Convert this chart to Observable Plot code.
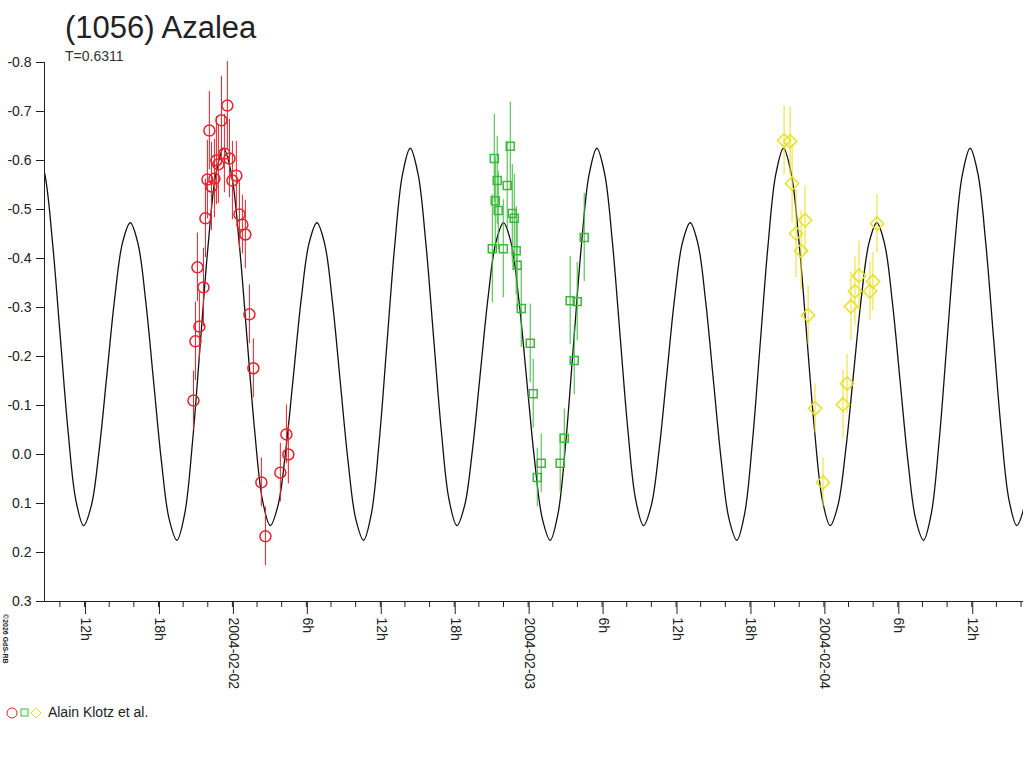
<!DOCTYPE html>
<html><head><meta charset="utf-8">
<script src="https://cdn.jsdelivr.net/npm/d3@7"></script>
<script src="https://cdn.jsdelivr.net/npm/@observablehq/plot@0.6"></script>
<style>
body{margin:0;background:#fff;font-family:"Liberation Sans",Arial,sans-serif;}
#wrap{position:relative;width:1024px;height:768px;}
#chart{position:absolute;left:0;top:0;}
.t{position:absolute;color:#222;white-space:nowrap;}
</style></head><body>
<div id="wrap">
<div id="chart"></div>
<div class="t" style="left:65px;top:10px;font-size:31px;">(1056) Azalea</div>
<div class="t" style="left:65px;top:48px;font-size:14px;color:#333">T=0.6311</div>
<svg class="t" style="left:0;top:610px" width="12" height="70"><text transform="translate(3,4) rotate(90)" font-size="7" font-weight="bold" fill="#222" font-family="Liberation Sans, Arial">©2026 GdS-RB</text></svg>
<div class="t" style="left:4px;top:704px;font-size:14px;">
<svg width="38" height="16" style="vertical-align:-3px"><circle cx="8" cy="9" r="5" fill="none" stroke="#e8202a"/><rect x="17" y="5" width="7" height="7" fill="none" stroke="#3cb83c"/><path d="M32 4 L37 9 L32 14 L27 9 Z" fill="none" stroke="#e8e020"/></svg>
<span style="margin-left:2px">Alain Klotz et al.</span></div>
</div>
<script>
// time in hours from 2004-02-02 00:00 UT, magnitude
const period = 0.6311;            // days
const peakHour = 14.43;          // epoch of primary maximum (hours)
const curvePhaseMag = [-0.625,-0.573,-0.433,-0.24,-0.048,0.093,0.145,0.104,-0.009,-0.164,-0.319,-0.432,-0.473,-0.43,-0.311,-0.149,0.013,0.132,0.175,0.121,-0.025,-0.225,-0.425,-0.571,-0.625];

const redHours = [-3.16,-3.0,-2.84,-2.68,-2.35,-2.19,-2.03,-1.87,-1.70,-1.46,-1.30,-1.14,-0.89,-0.65,-0.41,-0.24,0,0.32,0.57,0.81,1.05,1.38,1.70,2.35,2.68,3.89,4.38,4.54];
const redMag = [-0.110,-0.231,-0.382,-0.261,-0.341,-0.482,-0.561,-0.661,-0.547,-0.563,-0.600,-0.592,-0.682,-0.614,-0.712,-0.604,-0.559,-0.569,-0.490,-0.469,-0.449,-0.286,-0.176,0.057,0.167,0.037,-0.041,0.0];
const redErr = [0.06,0.08,0.07,0.07,0.08,0.08,0.08,0.08,0.09,0.08,0.09,0.08,0.09,0.08,0.09,0.08,0.08,0.07,0.07,0.06,0.07,0.06,0.06,0.05,0.06,0.06,0.06,0.06];

const greenHours = [21.09,21.25,21.33,21.49,21.57,21.98,22.30,22.55,22.71,22.87,23.03,23.11,23.44,24.17,24.41,24.74,25.06,26.60,26.93,27.41,27.74,27.98,28.55];
const greenMag = [-0.420,-0.604,-0.518,-0.559,-0.498,-0.420,-0.549,-0.629,-0.492,-0.482,-0.416,-0.386,-0.298,-0.227,-0.124,0.047,0.018,0.018,-0.033,-0.314,-0.192,-0.312,-0.443];
const greenErr = [0.11,0.09,0.09,0.09,0.08,0.1,0.09,0.09,0.1,0.09,0.09,0.09,0.08,0.08,0.07,0.06,0.06,0.06,0.06,0.09,0.07,0.08,0.09];

const yellowHours = [44.77,45.26,45.42,45.74,46.15,46.47,46.72,47.28,47.93,49.55,49.88,50.20,50.52,50.85,51.74,51.98,52.31];
const yellowMag = [-0.641,-0.639,-0.553,-0.451,-0.416,-0.478,-0.284,-0.094,0.057,-0.102,-0.145,-0.302,-0.333,-0.365,-0.333,-0.353,-0.471];
const yellowErr = [0.07,0.07,0.08,0.09,0.08,0.07,0.06,0.05,0.05,0.07,0.06,0.07,0.07,0.07,0.06,0.06,0.06];

const yTicks = [-0.8,-0.7,-0.6,-0.5,-0.4,-0.3,-0.2,-0.1,0.0,0.1,0.2,0.3];
const yTickLabels = ["-0.8","-0.7","-0.6","-0.5","-0.4","-0.3","-0.2","-0.1","0.0","0.1","0.2","0.3"];
const majorTickHours = [-12,-6,0,6,12,18,24,30,36,42,48,54,60];
const majorTickLabels = ["12h","18h","2004-02-02","6h","12h","18h","2004-02-03","6h","12h","18h","2004-02-04","6h","12h"];
const minorTickHours = d3.range(-14,65,2);
const xDomainHours = [-15.25,64.2];

const T0 = Date.UTC(2004,1,2);
const toDate = h => new Date(T0 + h*3600e3);
const P = period*24;
const curve = [];
for (let n=-3;n<=4;n++) curvePhaseMag.forEach((m,k)=>{ if(!(k===24 && n<4)) curve.push({t:toDate(peakHour+(n+k/24)*P), m}); });
const mk = (hs,ms,es)=>hs.map((h,i)=>({t:toDate(h),m:ms[i],e:es[i]}));
const red = mk(redHours,redMag,redErr), green = mk(greenHours,greenMag,greenErr), yellow = mk(yellowHours,yellowMag,yellowErr);
const cR="#e8202a", cG="#3cb83c", cY="#e8e020";
const errBar=(d,c)=>Plot.ruleX(d,{x:"t",y1:x=>x.m-x.e,y2:x=>x.m+x.e,stroke:c,strokeWidth:1});
const plot = Plot.plot({
  width:1024,height:768,marginLeft:44,marginTop:62,marginBottom:167,marginRight:1,
  style:{fontFamily:"Liberation Sans, Arial, sans-serif",color:"#222",background:"transparent"},
  x:{type:"utc",domain:xDomainHours.map(toDate)},
  y:{domain:[-0.8,0.3],reverse:true},
  marks:[
    Plot.line(curve,{x:"t",y:"m",stroke:"#111",strokeWidth:1.3,curve:"catmull-rom",clip:true}),
    errBar(red,cR),errBar(green,cG),errBar(yellow,cY),
    Plot.dot(red,{x:"t",y:"m",symbol:"circle",r:5.5,stroke:cR,fill:"none"}),
    Plot.dot(green,{x:"t",y:"m",symbol:"square",r:4.5,stroke:cG,fill:"none"}),
    Plot.dot(yellow,{x:"t",y:"m",symbol:"diamond2",r:6,stroke:cY,fill:"none"}),
    Plot.axisY({ticks:yTicks,tickFormat:(d,i)=>yTickLabels[i],tickSize:8,tickPadding:5,fontSize:14,label:null,stroke:"#222"}),
    Plot.ruleX([toDate(xDomainHours[0])],{y1:-0.8,y2:0.3,stroke:"#222"}),
    Plot.ruleY([0.3],{stroke:"#222"}),
    Plot.axisX({ticks:minorTickHours.map(toDate),tickSize:6,tickFormat:()=>"",label:null,stroke:"#222"}),
    Plot.axisX({ticks:majorTickHours.map(toDate),tickSize:13,tickRotate:90,tickPadding:3,fontSize:14,label:null,stroke:"#222",
      tickFormat:(d,i)=>majorTickLabels[i],dx:1})
  ]
});
document.getElementById("chart").appendChild(plot);
</script>
</body></html>
